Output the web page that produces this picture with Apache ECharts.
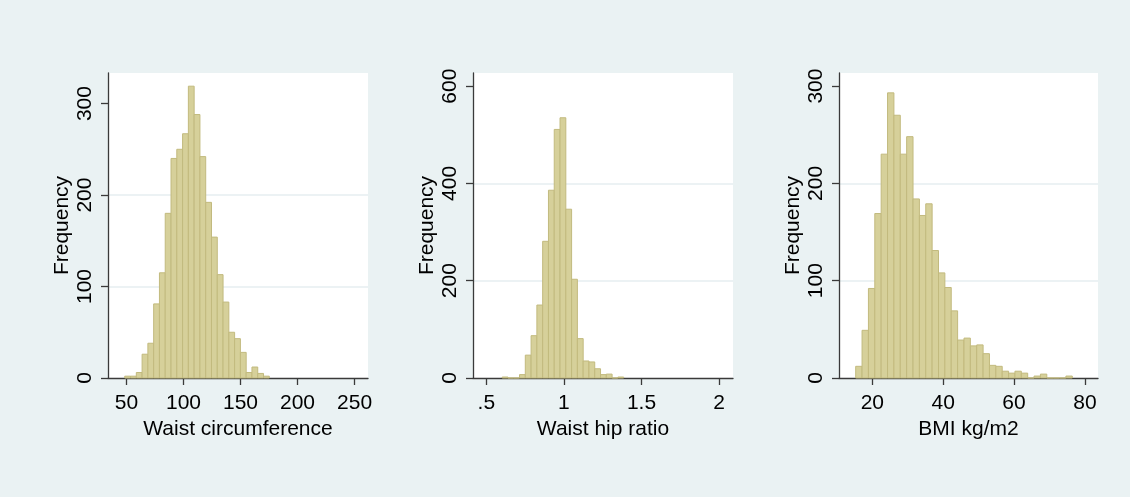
<!DOCTYPE html>
<html>
<head>
<meta charset="utf-8">
<script src="https://cdn.jsdelivr.net/npm/echarts@6/dist/echarts.min.js"></script>
<style>
html,body{margin:0;padding:0;background:#eaf2f3;}
#chart{width:1130px;height:497px;}
</style>
</head>
<body>
<div id="chart"></div>
<script>
// Panel 1: Waist circumference histogram
const waistBinStart = 48.5;
const waistBinWidth = 5.07;
const waistCounts = [2, 2, 6, 26, 38, 81, 115, 180, 240, 250, 267, 319, 288, 242, 192, 154, 113, 83, 50, 43, 28, 6, 12, 5, 2];
const waistTicks = [50, 100, 150, 200, 250];
const waistTickLabels = ['50', '100', '150', '200', '250'];

// Panel 2: Waist hip ratio histogram
const whrBinStart = 0.602;
const whrBinWidth = 0.0373;
const whrCounts = [2, 0, 0, 7, 47, 87, 150, 281, 386, 511, 535, 347, 203, 81, 35, 33, 19, 7, 8, 0, 2];
const whrTicks = [0.5, 1, 1.5, 2];
const whrTickLabels = ['.5', '1', '1.5', '2'];

// Panel 3: BMI histogram
const bmiBinStart = 15.31;
const bmiBinWidth = 1.798;
const bmiCounts = [12, 49, 92, 169, 230, 293, 270, 230, 248, 184, 167, 179, 131, 108, 93, 69, 39, 41, 33, 34, 25, 13, 12, 7, 5, 7, 5, 0, 2, 4, 0, 0, 0, 2];
const bmiTicks = [20, 40, 60, 80];
const bmiTickLabels = ['20', '40', '60', '80'];

const yTicks1 = [0, 100, 200, 300];
const yTicks2 = [0, 200, 400, 600];
const yTicks3 = [0, 100, 200, 300];

const xTitles = ['Waist circumference', 'Waist hip ratio', 'BMI kg/m2'];
const yTitle = 'Frequency';

const FONT = '"Liberation Sans", Arial, Helvetica, sans-serif';
const FS = 21;
const AXIS_COLOR = '#3a3a3a';
const BAR_FILL = '#d6d09a';
const BAR_EDGE = '#c2ba7e';
const GRID_COLOR = '#e6eef0';

function binData(start, width, counts) {
  return counts.map((c, i) => [start + i * width, start + (i + 1) * width, c]);
}

const panels = [
  {grid: {left: 108, top: 73, width: 260, height: 305}, xmin: 33.8, xmax: 261.8, ymax: 333.4, yint: 100,
   xt: waistTicks, xl: waistTickLabels, yt: yTicks1, data: binData(waistBinStart, waistBinWidth, waistCounts), title: xTitles[0]},
  {grid: {left: 473, top: 73, width: 260, height: 305}, xmin: 0.414, xmax: 2.09, ymax: 627, yint: 200,
   xt: whrTicks, xl: whrTickLabels, yt: yTicks2, data: binData(whrBinStart, whrBinWidth, whrCounts), title: xTitles[1]},
  {grid: {left: 839, top: 73, width: 259, height: 305}, xmin: 10.6, xmax: 83.7, ymax: 313.4, yint: 100,
   xt: bmiTicks, xl: bmiTickLabels, yt: yTicks3, data: binData(bmiBinStart, bmiBinWidth, bmiCounts), title: xTitles[2]}
];

const option = {
  backgroundColor: '#eaf2f3',
  animation: false,
  textStyle: {fontFamily: FONT},
  grid: panels.map(p => Object.assign({containLabel: false, backgroundColor: '#ffffff', show: true, borderWidth: 0}, p.grid)),
  xAxis: panels.map((p, i) => ({
    type: 'value', gridIndex: i, min: p.xmin, max: p.xmax,
    name: p.title, nameLocation: 'middle', nameGap: 33,
    nameTextStyle: {fontSize: FS, color: '#000', fontFamily: FONT},
    axisLine: {show: true, onZero: false, lineStyle: {color: AXIS_COLOR, width: 1.3}},
    axisTick: {show: true, length: 7, lineStyle: {color: AXIS_COLOR, width: 1.3}, customValues: p.xt},
    axisLabel: {fontSize: FS, color: '#000', margin: 15, fontFamily: FONT, customValues: p.xt,
      formatter: v => { const k = p.xt.findIndex(t => Math.abs(t - v) < 1e-9); return k >= 0 ? p.xl[k] : ''; }},
    splitLine: {show: false}
  })),
  yAxis: panels.map((p, i) => ({
    type: 'value', gridIndex: i, min: 0, max: p.ymax, interval: p.yint,
    name: yTitle, nameLocation: 'middle', nameGap: 35, nameRotate: 90,
    nameTextStyle: {fontSize: FS, color: '#000', fontFamily: FONT},
    axisLine: {show: true, lineStyle: {color: AXIS_COLOR, width: 1.3}},
    axisTick: {show: true, length: 7, lineStyle: {color: AXIS_COLOR, width: 1.3}, customValues: p.yt},
    axisLabel: {fontSize: FS, color: '#000', margin: 12, rotate: 90, fontFamily: FONT, customValues: p.yt},
    splitLine: {show: true, showMinLine: false, showMaxLine: false, lineStyle: {color: GRID_COLOR, width: 1.5}}
  })),
  series: panels.map((p, i) => ({
    type: 'custom', xAxisIndex: i, yAxisIndex: i,
    data: p.data,
    encode: {x: [0, 1], y: 2},
    renderItem: function (params, api) {
      const tl = api.coord([api.value(0), api.value(2)]);
      const br = api.coord([api.value(1), 0]);
      return {
        type: 'rect',
        shape: {x: tl[0], y: tl[1], width: br[0] - tl[0], height: br[1] - tl[1]},
        style: {fill: BAR_FILL, stroke: BAR_EDGE, lineWidth: 1}
      };
    }
  }))
};

const chart = echarts.init(document.getElementById('chart'), null, {renderer: 'canvas'});
chart.setOption(option);
</script>
</body>
</html>
